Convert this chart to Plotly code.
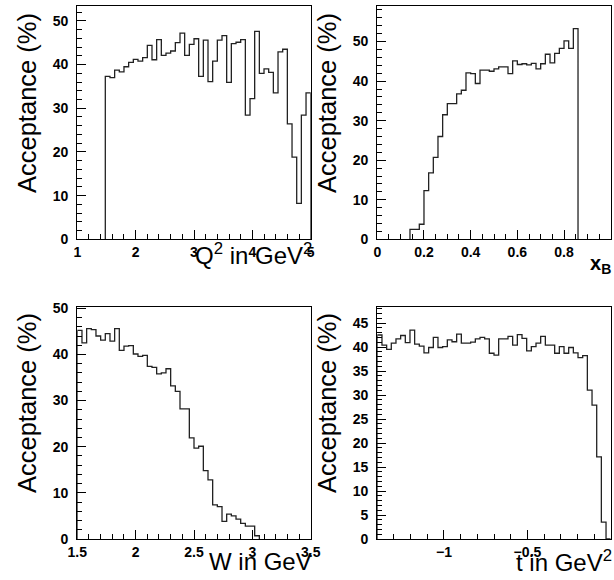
import plotly.graph_objects as go

# ---------------- data ----------------
# Panel 1: acceptance vs Q^2 (GeV^2), bins of 0.08 starting at 1.48
q2_lo, q2_w = 1.48, 0.08
q2_vals = [37.3, 37.0, 38.7, 38.3, 39.5, 40.5, 41.2, 40.8, 41.6, 44.4,
           41.1, 45.7, 42.1, 42.6, 43.1, 45.0, 47.2, 42.1, 44.6, 45.9,
           37.3, 45.6, 36.1, 40.8, 45.6, 46.6, 35.9, 44.8, 45.1, 45.7,
           28.4, 32.2, 47.6, 38.0, 39.0, 38.2, 33.5, 42.9, 43.5, 26.4,
           18.8, 8.2, 28.4, 33.5]

# Panel 2: acceptance vs x_B, bins of 0.02 starting at 0.14
xb_lo, xb_w = 0.14, 0.02
xb_vals = [2.5, 2.5, 3.8, 12.3, 16.8, 20.7, 26.0, 31.5, 34.3, 34.3,
           36.8, 37.7, 42.1, 41.9, 39.4, 42.8, 42.8, 42.5, 43.1, 43.6,
           43.6, 41.9, 45.1, 44.2, 44.4, 44.1, 44.5, 43.1, 44.4, 46.8,
           44.6, 47.0, 48.3, 50.2, 48.3, 53.3]

# Panel 3: acceptance vs W (GeV), bins of 0.04 starting at 1.5
w_lo, w_w = 1.5, 0.04
w_vals = [45.2, 42.5, 45.6, 45.4, 44.0, 43.1, 44.5, 42.9, 45.6, 40.9,
          41.8, 41.9, 40.1, 39.6, 39.8, 37.4, 37.2, 35.8, 36.0, 36.9,
          33.2, 32.0, 28.2, 28.2, 21.9, 19.7, 20.1, 14.8, 12.8, 7.4,
          7.0, 3.8, 5.4, 5.0, 4.3, 3.4, 2.8, 2.8, 0.7]

# Panel 4: acceptance vs t (GeV^2), bins of 0.028 starting at -1.4
t_lo, t_w = -1.4, 0.028
t_vals = [42.5, 40.4, 39.5, 40.8, 41.7, 42.4, 40.9, 43.5, 40.6, 40.2,
          38.8, 39.9, 42.0, 39.9, 40.1, 41.5, 41.1, 42.7, 40.8, 40.8,
          41.0, 41.7, 42.0, 41.7, 38.7, 38.3, 41.7, 41.7, 42.2, 40.4,
          42.6, 41.8, 39.2, 40.1, 40.8, 42.2, 40.4, 40.4, 38.7, 40.1,
          38.7, 39.9, 38.8, 37.8, 38.2, 31.0, 27.9, 17.1, 3.5, 0.0]

# tick labels
q2_ticks = [1, 2, 3, 4, 5]
xb_ticks = [0, 0.2, 0.4, 0.6, 0.8, 1]
w_ticks = [1.5, 2, 2.5, 3, 3.5]
t_tickvals = [-1, -0.5, 0]
t_ticktext = ["\u22121", "\u22120.5", "0"]
acc_ticks_10 = [0, 10, 20, 30, 40, 50]
acc_ticks_5 = [0, 5, 10, 15, 20, 25, 30, 35, 40, 45]

# ---------------- helpers ----------------
def step_xy(lo, w, vals):
    n = len(vals)
    xs = [lo] + [lo + i * w for i in range(n)] + [lo + n * w]
    ys = [0] + list(vals) + [0]
    return xs, ys

W, H = 614, 580
def px_x(a, b):
    return [a / W, b / W]
def px_y(top, bottom):
    return [1 - bottom / H, 1 - top / H]

FONT = "Liberation Sans"
tickfont = dict(family=FONT, size=14, color="black", weight="bold")

fig = go.Figure()
panels = [
    (q2_lo, q2_w, q2_vals, "x", "y"),
    (xb_lo, xb_w, xb_vals, "x2", "y2"),
    (w_lo, w_w, w_vals, "x3", "y3"),
    (t_lo, t_w, t_vals, "x4", "y4"),
]
for lo, w, vals, xa, ya in panels:
    xs, ys = step_xy(lo, w, vals)
    fig.add_trace(go.Scatter(x=xs, y=ys, mode="lines", line_shape="hv",
                             line=dict(color="#222222", width=1.3),
                             xaxis=xa, yaxis=ya, showlegend=False,
                             hoverinfo="skip"))

def xax(domain, rng, tickvals, dminor, ticktext=None, anchor="y"):
    d = dict(domain=domain, range=rng, anchor=anchor, showgrid=False,
             automargin=False,
             zeroline=False, showline=True, linecolor="black", linewidth=1.3,
             mirror=True, ticks="inside", ticklen=9, tickwidth=1.2,
             tickcolor="black", tickvals=tickvals, tickfont=tickfont,
             minor=dict(ticks="inside", ticklen=5, tickwidth=1.1,
                        tickcolor="black", dtick=dminor, showgrid=False,
                        tick0=0))
    if ticktext is not None:
        d["ticktext"] = ticktext
    return d

def yax(domain, rng, tickvals, dminor, anchor="x"):
    return dict(domain=domain, range=rng, anchor=anchor, showgrid=False,
                automargin=False,
                zeroline=False, showline=True, linecolor="black",
                linewidth=1.3, mirror=True, ticks="inside", ticklen=9,
                tickwidth=1.2, tickcolor="black", tickvals=tickvals,
                tickfont=tickfont, ticklabelstandoff=5,
                minor=dict(ticks="inside", ticklen=5, tickwidth=1.1,
                           tickcolor="black", dtick=dminor, showgrid=False,
                           tick0=0))

xl = px_x(77.3, 310.7)
xr = px_x(377.3, 610.7)
yt = px_y(6, 239.3)
yb = px_y(306.7, 539)

fig.update_layout(
    width=W, height=H, autosize=False,
    margin=dict(l=0, r=0, t=0, b=0, pad=0, autoexpand=False),
    paper_bgcolor="white", plot_bgcolor="white",
    xaxis=xax(xl, [1, 5], q2_ticks, 0.2, anchor="y"),
    yaxis=yax(yt, [0, 53.4], acc_ticks_10, 2, anchor="x"),
    xaxis2=xax(xr, [0, 1], xb_ticks, 0.05, anchor="y2"),
    yaxis2=yax(yt, [0, 59.0], acc_ticks_10, 2, anchor="x2"),
    xaxis3=xax(xl, [1.5, 3.5], w_ticks, 0.1, anchor="y3"),
    yaxis3=yax(yb, [0, 50.35], acc_ticks_10, 2, anchor="x3"),
    xaxis4=xax(xr, [-1.4, 0], t_tickvals, 0.1, ticktext=t_ticktext, anchor="y4"),
    yaxis4=yax(yb, [0, 48.4], acc_ticks_5, 1, anchor="x4"),
)

titlefont = dict(family=FONT, size=25.5, color="black")
ann = []
for xc, ytop in [(27, 11), (327, 11), (27, 311), (327, 311)]:
    ann.append(dict(text="Acceptance (%)", textangle=-90, xref="paper",
                    yref="paper", x=xc / W, y=1 - ytop / H, xanchor="center",
                    yanchor="top", showarrow=False, font=titlefont))
ann.append(dict(text="Q<sup>2</sup> in GeV<sup>2</sup>", xref="paper",
                yref="paper", x=314 / W, y=1 - 254 / H, xanchor="right",
                yanchor="middle", showarrow=False,
                font=dict(family=FONT, size=24, color="black")))
ann.append(dict(text="x<sub>B</sub>", xref="paper", yref="paper",
                x=613 / W, y=1 - 264 / H, xanchor="right", yanchor="middle",
                showarrow=False,
                font=dict(family=FONT, size=20, color="black", weight="bold")))
ann.append(dict(text="W in GeV", xref="paper", yref="paper",
                x=314 / W, y=1 - 561 / H, xanchor="right", yanchor="middle",
                showarrow=False, font=dict(family=FONT, size=24, color="black")))
ann.append(dict(text="t in GeV<sup>2</sup>", xref="paper", yref="paper",
                x=614 / W, y=1 - 561 / H, xanchor="right", yanchor="middle",
                showarrow=False, font=dict(family=FONT, size=24, color="black")))
fig.update_layout(annotations=ann)

fig.write_html("out.html")
